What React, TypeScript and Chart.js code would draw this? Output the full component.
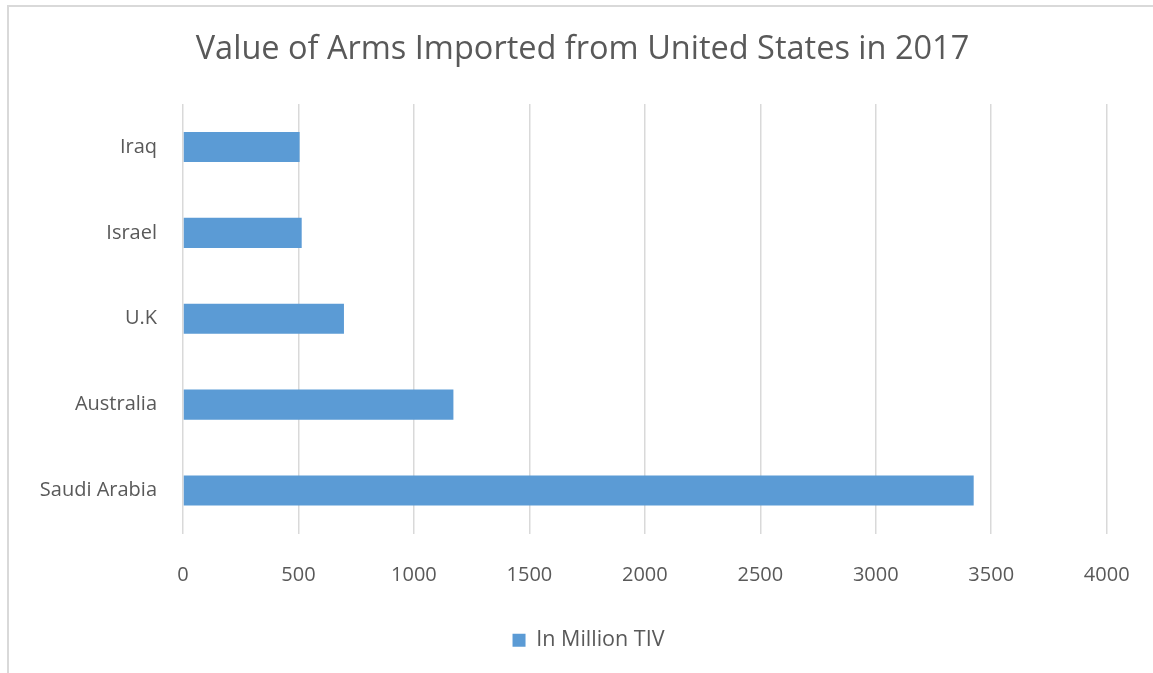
import React, { useEffect, useRef } from "react";
import { Chart, registerables } from "chart.js";

Chart.register(...registerables);

const categories = ["Iraq", "Israel", "U.K", "Australia", "Saudi Arabia"];
const values = [505, 514, 697, 1171, 3424];
const seriesName = "In Million TIV";
const titleText = "Value of Arms Imported from United States in 2017";
const xMin = 0;
const xMax = 4000;
const xStep = 500;

const TEXT = "#595959";
const BAR = "#5B9BD5";
const GRID = "#d9d9d9";
const FONT = "'Open Sans', sans-serif";

const legendShift = {
  id: "legendShift",
  afterLayout(chart: any) {
    if (chart.legend) {
      chart.legend.left += 6;
      chart.legend.right += 6;
    }
  },
};

export default function App() {
  const canvasRef = useRef<HTMLCanvasElement | null>(null);

  useEffect(() => {
    document.body.style.margin = "0";
    const canvas = canvasRef.current;
    if (!canvas) return;
    const chart = new Chart(canvas, {
      type: "bar",
      data: {
        labels: categories,
        datasets: [
          {
            label: seriesName,
            data: values,
            backgroundColor: BAR,
            borderColor: BAR,
            borderWidth: 0,
            barPercentage: 0.35,
            categoryPercentage: 1,
          },
        ],
      },
      options: {
        indexAxis: "y",
        animation: false,
        responsive: true,
        maintainAspectRatio: false,
        layout: { padding: { left: 12, right: 0, top: 0, bottom: 12 } },
        plugins: {
          title: {
            display: true,
            text: titleText,
            color: TEXT,
            font: { family: FONT, size: 32.5, weight: "normal" },
            padding: { top: 30, bottom: 35 },
          },
          legend: {
            display: true,
            position: "bottom",
            labels: {
              color: TEXT,
              font: { family: FONT, size: 21.5 },
              boxWidth: 13,
              boxHeight: 13,
              padding: 10,
            },
          },
          tooltip: { enabled: false },
        },
        scales: {
          x: {
            type: "linear",
            min: xMin,
            max: xMax,
            ticks: {
              stepSize: xStep,
              color: TEXT,
              font: { family: FONT, size: 20 },
              padding: 4,
              maxRotation: 0,
              callback: (v: any) => String(v),
            },
            grid: {
              color: GRID,
              lineWidth: 1.5,
              drawTicks: true,
              tickLength: 26,
              tickColor: "rgba(0,0,0,0)",
            },
            border: { display: false },
            afterFit: (scale: any) => {
              scale.height = 86;
            },
          },
          y: {
            ticks: {
              color: TEXT,
              font: { family: FONT, size: 20 },
              padding: 26,
            },
            grid: { display: false, drawTicks: false },
            border: { display: false },
            afterFit: (scale: any) => {
              scale.width = 171;
            },
          },
          yRight: {
            type: "category",
            position: "right",
            display: true,
            ticks: { display: false },
            grid: { display: false, drawTicks: false },
            border: { display: false },
            afterFit: (scale: any) => {
              scale.width = 46.3;
            },
          },
        },
      },
      plugins: [legendShift],
    });
    return () => chart.destroy();
  }, []);

  return (
    <div style={{ position: "fixed", left: 0, top: 0, width: 1153, height: 673, background: "#fff" }}>
      <div
        style={{
          position: "absolute",
          left: 7,
          top: 5,
          width: 1153,
          height: 700,
          borderTop: "2px solid #d9d9d9",
          borderLeft: "2px solid #d9d9d9",
          boxSizing: "border-box",
        }}
      />
      <div style={{ position: "absolute", left: 0, top: 0, width: 1153, height: 673 }}>
        <canvas ref={canvasRef} />
      </div>
    </div>
  );
}
